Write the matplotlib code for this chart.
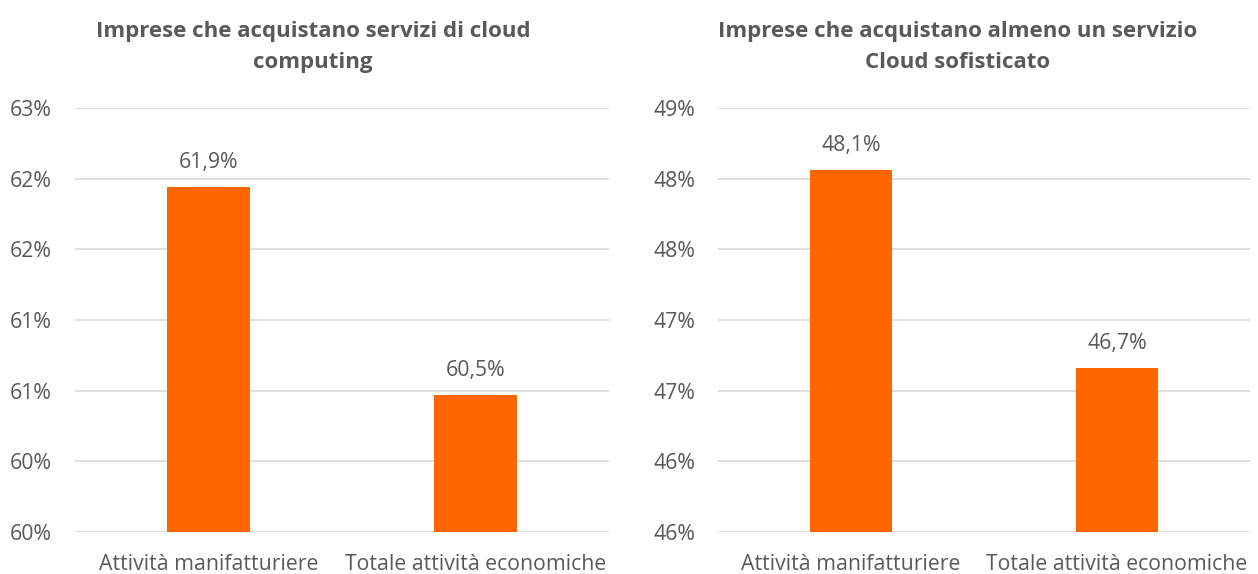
import matplotlib
matplotlib.use("Agg")
import matplotlib.pyplot as plt
from matplotlib.ticker import FuncFormatter, MultipleLocator
import math

categories = ["Attività manifatturiere", "Totale attività economiche"]
cloud_values = [61.94, 60.47]
sophisticated_values = [48.06, 46.66]
titles = ["Imprese che acquistano servizi di cloud\ncomputing",
          "Imprese che acquistano almeno un servizio\nCloud sofisticato"]
ylims = [(59.5, 62.5), (45.5, 48.5)]

plt.rcParams['font.family'] = ['Open Sans', 'DejaVu Sans']
TXT = "#595959"
ORANGE = "#FF6600"
GRID = "#D9D9D9"

fig = plt.figure(figsize=(12.58, 5.74), dpi=100)
W, H = 1258, 574
axes_px = [(75, 609), (718, 1250)]
top_px, bot_px = 108, 532
title_x = [313, 958]

def pct_fmt(v, pos):
    return f"{int(math.floor(v + 0.5 + 1e-9))}%"

for i, (vals, title, yl) in enumerate(zip([cloud_values, sophisticated_values], titles, ylims)):
    x0, x1 = axes_px[i]
    ax = fig.add_axes([x0 / W, 1 - bot_px / H, (x1 - x0) / W, (bot_px - top_px) / H])
    xs = list(range(len(categories)))
    bars = ax.bar(xs, vals, width=0.31, color=ORANGE, zorder=3, bottom=0)
    ax.set_xlim(-0.5, 1.5)
    ax.set_ylim(*yl)
    ax.yaxis.set_major_locator(MultipleLocator(0.5))
    ax.yaxis.set_major_formatter(FuncFormatter(pct_fmt))
    ax.grid(axis='y', color=GRID, linewidth=1.2, zorder=0)
    for s in ax.spines.values():
        s.set_visible(False)
    ax.tick_params(axis='both', length=0, labelsize=15.3, colors=TXT)
    ax.tick_params(axis='y', pad=16.5)
    ax.tick_params(axis='x', pad=15.5)
    ax.set_xticks(xs)
    ax.set_xticklabels(categories)
    for b, v in zip(bars, vals):
        ax.annotate(f"{v:.1f}%".replace('.', ','), (b.get_x() + b.get_width() / 2, v),
                    xytext=(0, 10), textcoords='offset points', ha='center', va='bottom',
                    fontsize=15.3, color=TXT)
    fig.text(title_x[i] / W, 1 - 47 / H, title, ha='center', va='center', fontsize=16,
             fontweight='bold', color=TXT, linespacing=1.6)

fig.savefig("out.png", dpi=100, facecolor='white')
